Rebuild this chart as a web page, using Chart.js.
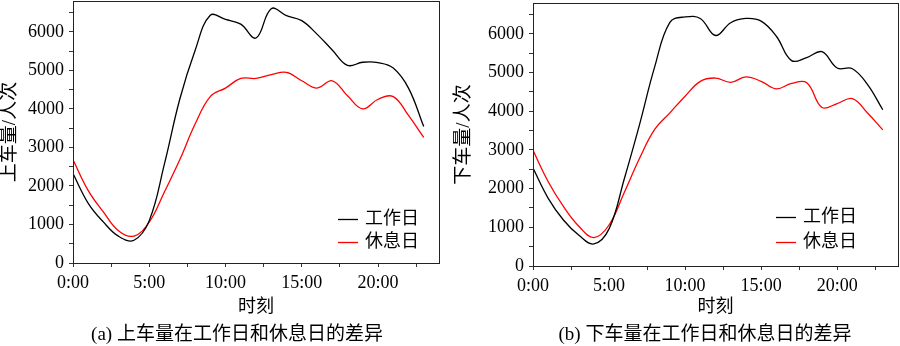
<!DOCTYPE html>
<html>
<head>
<meta charset="utf-8">
<script src="https://cdn.jsdelivr.net/npm/chart.js@4.4.0/dist/chart.umd.min.js"></script>
<style>
    body { margin: 0; background: #fff; }
    .panel { position: absolute; top: 0; width: 450px; height: 346px; }
</style>
</head>
<body>
<div class="panel" style="left:0"><canvas id="boardChart" width="450" height="346"></canvas></div>
<div class="panel" style="left:450px"><canvas id="alightChart" width="450" height="346"></canvas></div>
<script>
    // hour of day
    var hours = [0, 1, 2, 3, 4, 5, 6, 7, 8, 9, 10, 11, 12, 13, 14, 15, 16, 17, 18, 19, 20, 21, 22, 23];

    // (a) boarding, persons
    var boardWorkday = [2320, 1550, 1060, 690, 590, 1100, 2580, 4250, 5510, 6430, 6320, 6200, 5840, 6600, 6420, 6290, 5940, 5530, 5130, 5210, 5200, 5060, 4540, 3540];
    var boardRestday = [2680, 1880, 1320, 830, 700, 1060, 1850, 2680, 3600, 4320, 4540, 4790, 4790, 4890, 4950, 4730, 4540, 4730, 4340, 4000, 4250, 4320, 3830, 3260];

    // (b) alighting, persons
    var alightWorkday = [2530, 1750, 1190, 800, 570, 960, 2250, 3650, 5150, 6300, 6440, 6400, 5960, 6290, 6400, 6330, 5940, 5310, 5390, 5540, 5120, 5100, 4690, 4040];
    var alightRestday = [2990, 2180, 1540, 1035, 735, 1060, 1900, 2780, 3530, 3960, 4390, 4775, 4860, 4750, 4890, 4775, 4580, 4720, 4740, 4100, 4200, 4330, 3955, 3520];

    var seriesNames = ['工作日', '休息日'];
    var seriesColors = ['#000000', '#ff0000'];

    // axis ticks (minor ticks carry an empty label)
    var xTickValues = [0, 2.5, 5, 7.5, 10, 12.5, 15, 17.5, 20, 22.5];
    var xTickLabels = ['0:00', '', '5:00', '', '10:00', '', '15:00', '', '20:00', ''];
    var yTickValues = [0, 500, 1000, 1500, 2000, 2500, 3000, 3500, 4000, 4500, 5000, 5500, 6000, 6500];
    var yTickLabels = ['0', '', '1000', '', '2000', '', '3000', '', '4000', '', '5000', '', '6000', ''];
    var xMax = 24, yMax = 6800;

    var serifFont = '"Liberation Serif", "Noto Sans CJK SC", serif';

    function points (values) {
        return hours.map(function (h, i) { return { x: h, y: values[i] }; });
    }

    // box round the plot area (top and right side)
    var framePlugin = {
        id: 'frame',
        afterDraw: function (chart) {
            var a = chart.chartArea, ctx = chart.ctx;
            ctx.save();
            ctx.strokeStyle = '#222';
            ctx.lineWidth = 1;
            ctx.strokeRect(Math.round(a.left) + 0.5, Math.round(a.top) + 0.5,
                Math.round(a.right - a.left), Math.round(a.bottom - a.top));
            ctx.restore();
        }
    };

    // legend drawn inside the plot, lower right
    var innerLegendPlugin = {
        id: 'innerLegend',
        afterDraw: function (chart, args, opts) {
            var ctx = chart.ctx, a = chart.chartArea;
            ctx.save();
            ctx.font = '18px ' + serifFont;
            ctx.textBaseline = 'middle';
            ctx.textAlign = 'left';
            chart.data.datasets.forEach(function (ds, i) {
                var y = Math.round(a.bottom - opts.fromBottom + i * opts.rowGap) + 0.5,
                    x0 = a.right - opts.fromRight;
                ctx.strokeStyle = ds.borderColor;
                ctx.lineWidth = 1.3;
                ctx.beginPath();
                ctx.moveTo(x0, y);
                ctx.lineTo(x0 + 20, y);
                ctx.stroke();
                ctx.fillStyle = '#000';
                ctx.fillText(ds.label, x0 + 27, y);
            });
            ctx.restore();
        }
    };

    // sub caption under each panel
    var captionPlugin = {
        id: 'caption',
        afterDraw: function (chart, args, opts) {
            var ctx = chart.ctx;
            ctx.save();
            ctx.font = '19px ' + serifFont;
            ctx.fillStyle = '#000';
            ctx.textAlign = 'center';
            ctx.textBaseline = 'middle';
            ctx.fillText(opts.text, opts.x, opts.y);
            ctx.restore();
        }
    };

    function fixedTicks (values) {
        return function (scale) {
            scale.ticks = values.map(function (v) { return { value: v }; });
        };
    }

    function buildScales (yTitle, yWidth, xHeight) {
        return {
            x: {
                type: 'linear',
                min: 0,
                max: xMax,
                afterBuildTicks: fixedTicks(xTickValues),
                afterFit: function (scale) { scale.height = xHeight; },
                ticks: {
                    autoSkip: false,
                    maxRotation: 0,
                    padding: 5,
                    color: '#000',
                    font: { family: serifFont, size: 18 },
                    callback: function (v, i) { return xTickLabels[i]; }
                },
                grid: { drawOnChartArea: false, drawTicks: true, tickLength: 4, color: '#333' },
                border: { color: '#333', width: 1 },
                title: {
                    display: true,
                    text: '时刻',
                    color: '#000',
                    font: { family: serifFont, size: 18, lineHeight: 1.2 },
                    padding: { top: 0, bottom: 5 }
                }
            },
            y: {
                min: 0,
                max: yMax,
                afterBuildTicks: fixedTicks(yTickValues),
                afterFit: function (scale) {
                    scale.width = yWidth;
                    scale.paddingTop = 0;
                },
                ticks: {
                    autoSkip: false,
                    padding: 5,
                    color: '#000',
                    font: { family: serifFont, size: 18 },
                    callback: function (v, i) { return yTickLabels[i]; }
                },
                grid: { drawOnChartArea: false, drawTicks: true, tickLength: 4, color: '#333' },
                border: { color: '#333', width: 1 },
                title: {
                    display: true,
                    text: yTitle,
                    color: '#000',
                    font: { family: serifFont, size: 19, lineHeight: 1.1 },
                    padding: { top: 0, bottom: 0 }
                }
            }
        };
    }

    function buildChart (canvasId, work, rest, opts) {
        return new Chart(document.getElementById(canvasId), {
            type: 'line',
            data: {
                datasets: [work, rest].map(function (values, i) {
                    return {
                        label: seriesNames[i],
                        data: points(values),
                        borderColor: seriesColors[i],
                        borderWidth: 1.3,
                        pointRadius: 0,
                        tension: 0.4,
                        fill: false
                    };
                })
            },
            options: {
                responsive: false,
                animation: false,
                devicePixelRatio: 1,
                layout: { padding: opts.padding },
                scales: buildScales(opts.yTitle, opts.yWidth, opts.xHeight),
                plugins: {
                    legend: { display: false },
                    tooltip: { enabled: false },
                    innerLegend: opts.legend,
                    caption: opts.caption
                }
            },
            plugins: [framePlugin, innerLegendPlugin, captionPlugin]
        });
    }

    buildChart('boardChart', boardWorkday, boardRestday, {
        yTitle: '上车量/人次',
        yWidth: 73,
        xHeight: 60,
        padding: { left: 0, top: 1, right: 11, bottom: 23 },
        legend: { fromRight: 101, fromBottom: 44.5, rowGap: 23.5 },
        caption: { text: '(a) 上车量在工作日和休息日的差异', x: 237, y: 335 }
    });

    buildChart('alightChart', alightWorkday, alightRestday, {
        yTitle: '下车量/人次',
        yWidth: 79,
        xHeight: 57,
        padding: { left: 4, top: 3, right: 2, bottom: 23 },
        legend: { fromRight: 122, fromBottom: 49, rowGap: 25 },
        caption: { text: '(b) 下车量在工作日和休息日的差异', x: 255, y: 335 }
    });
</script>
</body>
</html>
